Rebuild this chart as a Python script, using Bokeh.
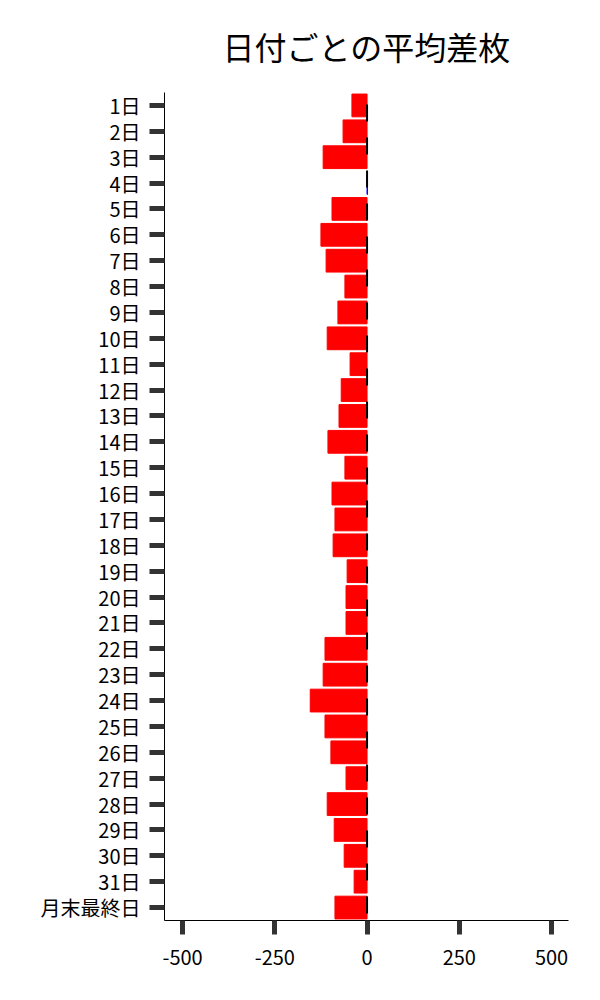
from bokeh.plotting import figure
from bokeh.models import FactorRange, Range1d, FixedTicker, Span, ColumnDataSource
from bokeh.embed import file_html
from bokeh.resources import INLINE

days = [f"{i}日" for i in range(1, 32)] + ["月末最終日"]
values = [-41, -65, -119, 1, -95, -125, -111, -60, -79, -108, -46,
          -70, -76, -106, -60, -95, -87, -92, -54, -57, -57,
          -114, -119, -154, -114, -98, -57, -108, -89, -62, -35, -87]
x_ticks = [-500, -250, 0, 250, 500]
x_tick_labels = ["-500", "-250", "0", "250", "500"]
title_text = "日付ごとの平均差枚"

colors = ["#ff0000" if v < 0 else "#0000ff" for v in values]
src = ColumnDataSource(dict(day=days, val=values, color=colors))

FONT = "Noto Sans CJK JP"

p = figure(width=600, height=1000, output_backend="svg", toolbar_location=None,
           y_range=FactorRange(factors=list(reversed(days)), range_padding=0),
           x_range=Range1d(-549, 546),
           title=title_text,
           min_border_left=164, min_border_right=32, min_border_top=92, min_border_bottom=80)

p.hbar(y="day", right="val", left=0, height=0.88, color="color", source=src)

zero = Span(location=0, dimension="height", line_color="black", line_width=2,
            line_dash="17 16", line_dash_offset=21)
p.add_layout(zero)

p.title.text_font = FONT
p.title.text_font_size = "32px"
p.title.text_font_style = "normal"
p.title.align = "center"
p.title.vertical_align = "top"
p.title.text_color = "black"
p.title.standoff = 44

p.outline_line_color = None
p.xgrid.grid_line_color = None
p.ygrid.grid_line_color = None

for ax in (p.xaxis[0], p.yaxis[0]):
    ax.axis_line_color = "black"
    ax.axis_line_width = 1
    ax.major_tick_line_color = "#333333"
    ax.major_tick_line_width = 5
    ax.minor_tick_line_color = None
    ax.major_tick_in = 0
    ax.major_label_text_font = FONT
    ax.major_label_text_font_size = "20px"
    ax.major_label_text_color = "black"

p.xaxis.ticker = FixedTicker(ticks=x_ticks)
p.xaxis.major_label_overrides = dict(zip(x_ticks, x_tick_labels))
p.xaxis.major_tick_out = 14
p.xaxis.major_label_standoff = 15
p.yaxis.major_tick_out = 15
p.yaxis.major_label_standoff = 9

open("out.html", "w").write(file_html(p, INLINE))
